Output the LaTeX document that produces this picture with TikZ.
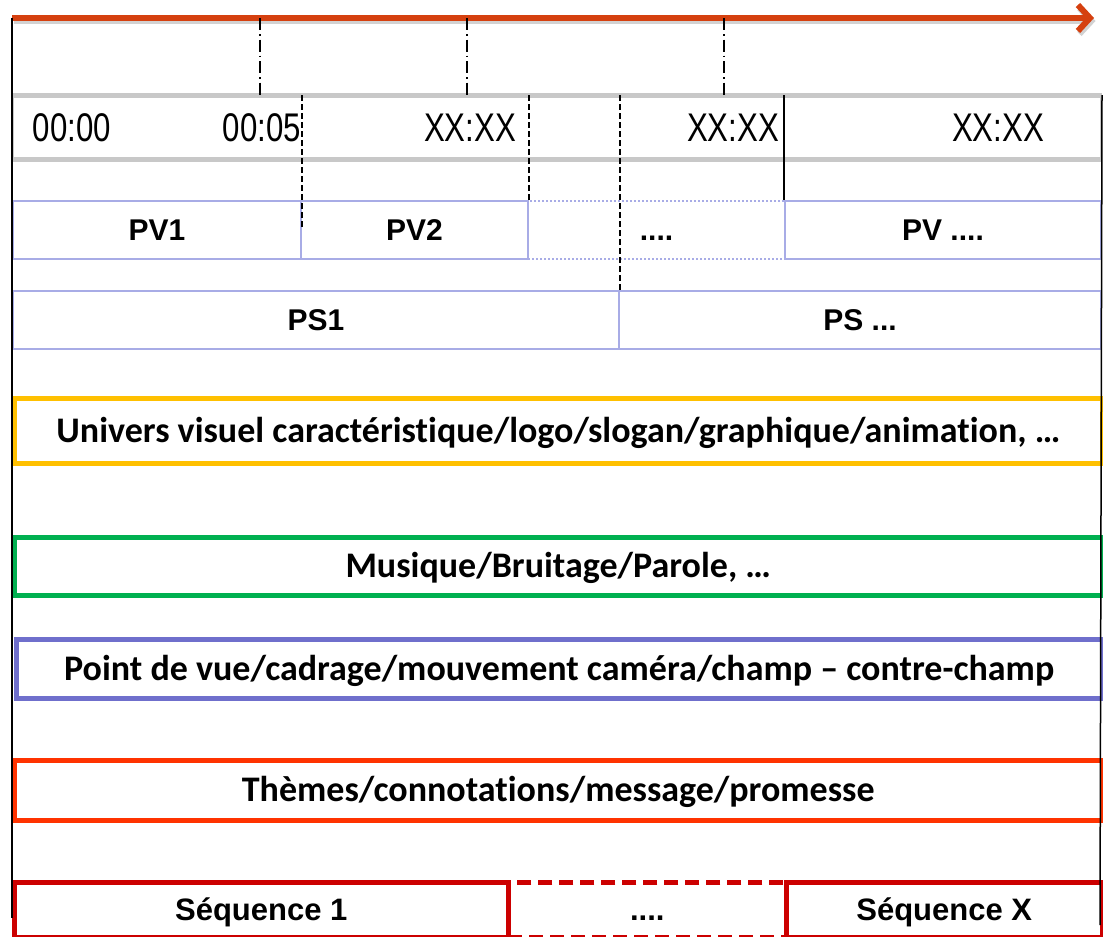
\documentclass[tikz,border=0pt]{standalone}
\usepackage{fontspec}
\setmainfont{Liberation Sans}
\newfontfamily\carlito[Ligatures={NoCommon}]{Carlito}
\newfontfamily\narrowfont[FakeStretch=0.78]{Liberation Sans}
\usetikzlibrary{arrows.meta}
\definecolor{arrowred}{HTML}{D5400F}
\definecolor{boxgray}{HTML}{C8C8C8}
\definecolor{lblue}{HTML}{A8ACE6}
\definecolor{cyellow}{HTML}{FFC000}
\definecolor{cgreen}{HTML}{00B050}
\definecolor{cpurple}{HTML}{6F6FCC}
\definecolor{corange}{HTML}{FF3300}
\definecolor{cred}{HTML}{CC0000}
\tikzset{
  timelbl/.style={inner sep=0pt, font=\fontsize{40}{44}\selectfont\narrowfont},
  pvbox/.style={draw=lblue, line width=2pt, anchor=north west, inner sep=0pt,
     text height=21.5pt, text depth=0pt,
     font=\fontsize{30}{34}\selectfont\bfseries},
  bandbox/.style={line width=4.5pt, anchor=north west, inner sep=0pt,
     text height=23pt, text depth=0pt,
     font=\fontsize{36}{40}\selectfont\carlito\bfseries},
  seqbox/.style={draw=cred, line width=4.5pt, anchor=north west, inner sep=0pt,
     text height=22pt, text depth=0pt,
     font=\fontsize{31}{35}\selectfont\bfseries},
  tick/.style={black, line width=1.5pt, dash pattern=on 12pt off 4pt on 1.5pt off 4pt},
  dashv/.style={black, line width=1.5pt, dash pattern=on 6pt off 3pt},
  solidv/.style={black, line width=1.5pt}
}
\begin{document}
\begin{tikzpicture}[x=1pt,y=-1pt]
\useasboundingbox (0,0) rectangle (1103,937);
% timeline arrow
\coordinate (astart) at (12,18);
\coordinate (aend) at (1094,18);
\draw[gray!35, line width=6pt, -{Straight Barb[length=12pt,width=26pt]}] ([shift={(1.5,3)}]astart) -- ([shift={(1.5,3)}]aend);
\draw[arrowred, line width=6pt, -{Straight Barb[length=12pt,width=26pt]}] (astart) -- (aend);
% time box
\node[draw=boxgray, line width=2pt, anchor=north west, minimum width=1088pt, minimum height=62pt, inner sep=0pt] (tbox) at (12,95) {};
\draw[boxgray, line width=5pt] (tbox.north west) -- (tbox.north east);
\draw[boxgray, line width=5pt] (tbox.south west) -- (tbox.south east);
\node[timelbl] (t0) at (72,128) {00:00};
\node[timelbl] (t1) at (262,128) {00:05};
\node[timelbl] (t2) at (470,128) {XX:XX};
\node[timelbl] (t3) at (733,128) {XX:XX};
\node[timelbl] (t4) at (998,128) {XX:XX};
% PV row
\node[pvbox, draw=lblue, dotted, minimum width=257pt, minimum height=58pt] (pvd) at (527,200) {....};
\node[pvbox, minimum width=288pt, minimum height=58pt] (pv1) at (12,200) {PV1};
\node[pvbox, minimum width=227pt, minimum height=58pt] (pv2) at (300,200) {PV2};
\node[pvbox, minimum width=316pt, minimum height=58pt] (pvx) at (784,200) {PV ....};
% PS row
\node[pvbox, minimum width=606pt, minimum height=58pt] (ps1) at (12,290) {PS1};
\node[pvbox, minimum width=482pt, minimum height=58pt] (psx) at (618,290) {PS ...};
% bands
\node[bandbox, draw=cyellow, minimum width=1088pt, minimum height=65pt] (univ) at (12,396) {Univers visuel caractéristique/logo/slogan/graphique/animation, …};
\node[bandbox, draw=cgreen, minimum width=1088pt, minimum height=58pt] (mus) at (12,535) {Musique/Bruitage/Parole, …};
\node[bandbox, draw=cpurple, minimum width=1086pt, minimum height=59pt] (pdv) at (14,637) {Point de vue/cadrage/mouvement caméra/champ – contre-champ};
\node[bandbox, draw=corange, minimum width=1088pt, minimum height=60pt] (them) at (12,758) {Thèmes/connotations/message/promesse};
% sequences
\node[seqbox, dashed, dash pattern=on 14pt off 7pt, minimum width=278pt, minimum height=55pt] (seqd) at (506,880) {....};
\node[seqbox, minimum width=494pt, minimum height=55pt] (seq1) at (12,880) {Séquence 1};
\node[seqbox, minimum width=316pt, minimum height=55pt] (seqx) at (784,880) {Séquence X};
% ticks from the arrow
\coordinate (k1) at (260,18); \coordinate (k2) at (467,18); \coordinate (k3) at (724,18);
\draw[tick] (k1) -- (k1 |- tbox.north);
\draw[tick] (k2) -- (k2 |- tbox.north);
\draw[tick] (k3) -- (k3 |- tbox.north);
% vertical markers
\draw[dashv] (pv1.north east |- tbox.north) -- ([yshift=-28pt]pv1.north east);
\draw[dashv] (pv2.north east |- tbox.north) -- (pv2.north east);
\draw[dashv] (ps1.north east |- tbox.north) -- (ps1.north east);
\draw[solidv] (pvx.north west |- tbox.north) -- (pvx.north west);
% outer verticals
\coordinate (lbot) at (12,918);
\coordinate (rbot) at (1100,925);
\draw[solidv] (astart) -- (lbot);
\draw[solidv] (tbox.north east) -- (rbot);
\end{tikzpicture}
\end{document}
